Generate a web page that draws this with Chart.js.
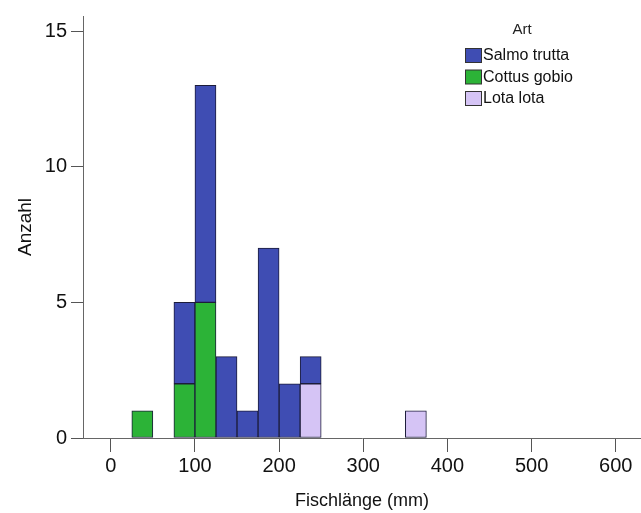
<!DOCTYPE html>
<html>
<head>
<meta charset="utf-8">
<script src="https://cdn.jsdelivr.net/npm/chart.js@4"></script>
<style>
  html, body { margin: 0; padding: 0; background: #fff; }
  canvas { display: block; }
</style>
</head>
<body>
<canvas id="histo" width="641" height="513"></canvas>
<script>
// lower edge of each 25 mm class
const binStart = [25, 75, 100, 125, 150, 175, 200, 225, 350];
const binWidth = 25;
const salmo  = [0, 3, 8, 3, 1, 7, 2, 1, 0];
const cottus = [1, 2, 5, 0, 0, 0, 0, 0, 0];
const lota   = [0, 0, 0, 0, 0, 0, 0, 2, 1];
const xTicks = [0, 100, 200, 300, 400, 500, 600];
const yTicks = [0, 5, 10, 15];

const toPoints = arr => binStart.map((b, i) => ({ x: b + binWidth / 2, y: arr[i] || null }));

const legendItems = [
    { label: 'Salmo trutta', color: '#3f4db3' },
    { label: 'Cottus gobio', color: '#2cb337' },
    { label: 'Lota lota', color: '#d5c4f5' }
];

const legendPlugin = {
    id: 'artLegend',
    afterDraw(chart) {
        const c = chart.ctx;
        c.save();
        c.fillStyle = '#222';
        c.font = '15px "Liberation Sans", Arial, sans-serif';
        c.textAlign = 'center';
        c.textBaseline = 'middle';
        c.fillText('Art', 522, 30);
        c.textAlign = 'left';
        c.font = '16px "Liberation Sans", Arial, sans-serif';
        legendItems.forEach((it, i) => {
            const y = 48 + i * 21.5;
            c.fillStyle = it.color;
            c.fillRect(465.5, y + 0.5, 16, 14);
            c.strokeStyle = '#333';
            c.lineWidth = 1;
            c.strokeRect(465.5, y + 0.5, 16, 14);
            c.fillStyle = '#111';
            c.fillText(it.label, 483, y + 8);
        });
        c.restore();
    }
};

const ctx = document.getElementById('histo');
new Chart(ctx, {
    type: 'bar',
    data: {
        datasets: [
            { label: 'Cottus gobio', data: toPoints(cottus), backgroundColor: '#2cb337' },
            { label: 'Lota lota', data: toPoints(lota), backgroundColor: '#d5c4f5' },
            { label: 'Salmo trutta', data: toPoints(salmo), backgroundColor: '#3f4db3' }
        ]
    },
    options: {
        responsive: false,
        animation: false,
        layout: { padding: { top: 9, right: 0, left: 0, bottom: 0 } },
        datasets: {
            bar: {
                barPercentage: 1,
                categoryPercentage: 1,
                borderColor: '#1c1c3a',
                borderWidth: 1,
                borderSkipped: false
            }
        },
        plugins: {
            legend: { display: false },
            tooltip: { enabled: false }
        },
        scales: {
            x: {
                type: 'linear',
                stacked: true,
                offset: false,
                min: -33,
                max: 630,
                afterBuildTicks: s => { s.ticks = xTicks.map(v => ({ value: v })); },
                afterFit: s => { s.height = 75; },
                ticks: {
                    includeBounds: false,
                    padding: 2,
                    color: '#111',
                    font: { size: 20, family: '"Liberation Sans", Arial, sans-serif' }
                },
                grid: { offset: false, drawOnChartArea: false, drawTicks: true, tickLength: 14, color: '#555' },
                border: { color: '#666' },
                title: {
                    display: true,
                    text: 'Fischlänge (mm)',
                    color: '#111',
                    padding: { top: 0, bottom: 1 },
                    font: { size: 18, family: '"Liberation Sans", Arial, sans-serif' }
                }
            },
            y: {
                stacked: true,
                min: 0,
                max: 15.56,
                afterBuildTicks: s => { s.ticks = yTicks.map(v => ({ value: v })); },
                afterFit: s => { s.width = 83; },
                ticks: {
                    includeBounds: false,
                    padding: 4,
                    color: '#111',
                    font: { size: 20, family: '"Liberation Sans", Arial, sans-serif' }
                },
                grid: { drawOnChartArea: false, drawTicks: true, tickLength: 12, color: '#555' },
                border: { color: '#666' },
                title: {
                    display: true,
                    text: 'Anzahl',
                    color: '#111',
                    padding: { top: 14, bottom: 0 },
                    font: { size: 19, family: '"Liberation Sans", Arial, sans-serif' }
                }
            }
        }
    },
    plugins: [legendPlugin]
});
</script>
</body>
</html>
